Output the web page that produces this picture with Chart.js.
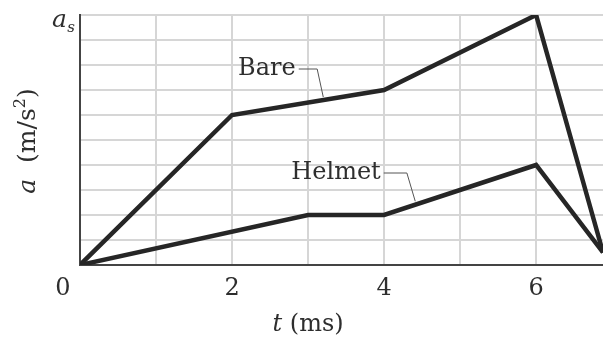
<!DOCTYPE html>
<html>
<head>
<meta charset="utf-8">
<script src="https://cdn.jsdelivr.net/npm/chart.js@4"></script>
<style>
  html, body { margin: 0; padding: 0; background: #fff; }
  #wrap { width: 603px; height: 337px; position: relative; }
</style>
</head>
<body>
<div id="wrap"><canvas id="chart"></canvas></div>
<script>
// values (a as a fraction of a_s, t in ms)
const bareT = [0, 2, 4, 6, 6.88];
const bareA = [0, 0.6, 0.7, 1.0, 0.05];
const helmetT = [0, 3, 4, 6, 6.88];
const helmetA = [0, 0.2, 0.2, 0.4, 0.05];
const xTicks = [0, 1, 2, 3, 4, 5, 6];
const xTickLabels = ['', '', '2', '', '4', '', '6'];
const yTicks = [0, 0.1, 0.2, 0.3, 0.4, 0.5, 0.6, 0.7, 0.8, 0.9, 1.0];

const SERIF = "'DejaVu Serif', serif";
const INK = '#262626';

// labels with leader lines, anchored in data units (leader starts right after the text)
const callouts = [
    { text: 'Bare', at: [2.08, 0.76], leader: [[3.12, 0.784], [3.2, 0.672]], ly: 0.784 },
    { text: 'Helmet', at: [2.78, 0.344], leader: [[4.3, 0.368], [4.41, 0.255]], ly: 0.368 }
];

const toPoints = (ts, as) => ts.map((t, i) => ({ x: t, y: as[i] }));

const labelsPlugin = {
    id: 'labels',
    afterDraw(chart) {
        const { ctx, scales: { x, y }, chartArea } = chart;
        ctx.save();
        ctx.fillStyle = '#2e2e2e';
        ctx.textBaseline = 'alphabetic';

        // callouts
        callouts.forEach(c => {
            ctx.font = `24px ${SERIF}`;
            ctx.textAlign = 'left';
            const tx = x.getPixelForValue(c.at[0]);
            ctx.fillText(c.text, tx, y.getPixelForValue(c.at[1]));
            const tw = ctx.measureText(c.text).width;
            ctx.strokeStyle = '#555';
            ctx.lineWidth = 1;
            ctx.beginPath();
            ctx.moveTo(tx + tw + 3, y.getPixelForValue(c.ly));
            c.leader.forEach(p => ctx.lineTo(x.getPixelForValue(p[0]), y.getPixelForValue(p[1])));
            ctx.stroke();
        });

        // shared origin "0"
        ctx.font = `24px ${SERIF}`;
        ctx.textAlign = 'center';
        ctx.fillText('0', chartArea.left - 17, chartArea.bottom + 30);

        // a_s at the top of the y axis
        const top = y.getPixelForValue(1);
        ctx.textAlign = 'right';
        ctx.font = `italic 25px ${SERIF}`;
        ctx.fillText('a', chartArea.left - 13, top + 12);
        ctx.font = `italic 15px ${SERIF}`;
        ctx.fillText('s', chartArea.left - 5, top + 17);

        // x title: t (ms)
        const xt1 = 't ', xt2 = '(ms)';
        ctx.textAlign = 'left';
        ctx.font = `italic 24px ${SERIF}`;
        const w1 = ctx.measureText(xt1).width;
        ctx.font = `24px ${SERIF}`;
        const w2 = ctx.measureText(xt2).width;
        const xc = x.getPixelForValue(3);
        const sx = xc - (w1 + w2) / 2;
        ctx.font = `italic 24px ${SERIF}`;
        ctx.fillText(xt1, sx, chartArea.bottom + 66);
        ctx.font = `24px ${SERIF}`;
        ctx.fillText(xt2, sx + w1, chartArea.bottom + 66);

        // y title: a (m/s²)
        ctx.translate(35, 141);
        ctx.rotate(-Math.PI / 2);
        const parts = [
            { s: 'a  ', f: `italic 25px ${SERIF}`, dy: 0 },
            { s: '(m/s', f: `25px ${SERIF}`, dy: 0 },
            { s: '2', f: `16px ${SERIF}`, dy: -10 },
            { s: ')', f: `25px ${SERIF}`, dy: 0 }
        ];
        let total = 0;
        parts.forEach(p => { ctx.font = p.f; p.w = ctx.measureText(p.s).width; total += p.w; });
        let cx = -total / 2;
        parts.forEach(p => {
            ctx.font = p.f;
            ctx.fillText(p.s, cx, p.dy);
            cx += p.w;
        });
        ctx.restore();
    }
};

new Chart(document.getElementById('chart'), {
    type: 'line',
    data: {
        datasets: [
            { label: 'Bare', data: toPoints(bareT, bareA) },
            { label: 'Helmet', data: toPoints(helmetT, helmetA) }
        ]
    },
    options: {
        responsive: true,
        maintainAspectRatio: false,
        animation: false,
        layout: { padding: { top: 15, right: 0, left: 0, bottom: 0 } },
        elements: {
            line: { borderColor: INK, borderWidth: 4.5, tension: 0, borderJoinStyle: 'miter' },
            point: { radius: 0, hoverRadius: 0 }
        },
        plugins: {
            legend: { display: false },
            tooltip: { enabled: false }
        },
        scales: {
            x: {
                type: 'linear',
                min: 0,
                max: 6.88,
                afterBuildTicks: s => { s.ticks = xTicks.map(v => ({ value: v })); },
                afterFit: s => { s.height = 72; },
                grid: { color: '#d6d6d6', lineWidth: 2, drawTicks: false },
                border: { display: true, color: '#444', width: 2 },
                ticks: {
                    padding: 9,
                    color: '#2e2e2e',
                    font: { family: SERIF, size: 24 },
                    maxRotation: 0,
                    autoSkip: false,
                    callback: (v) => xTickLabels[xTicks.indexOf(v)] ?? ''
                }
            },
            y: {
                min: 0,
                max: 1,
                afterBuildTicks: s => { s.ticks = yTicks.map(v => ({ value: v })); },
                afterFit: s => { s.width = 80; },
                grid: { color: '#d6d6d6', lineWidth: 2, drawTicks: false },
                border: { display: true, color: '#444', width: 2 },
                ticks: { display: false }
            }
        }
    },
    plugins: [labelsPlugin]
});
</script>
</body>
</html>
